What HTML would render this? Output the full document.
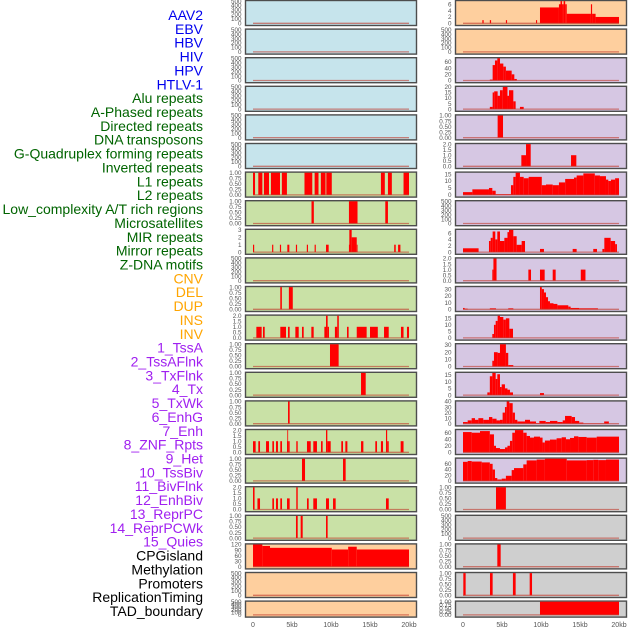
<!DOCTYPE html>
<html><head><meta charset="utf-8">
<style>
html,body{margin:0;padding:0;background:#fff;}
svg{display:block;font-family:"Liberation Sans",sans-serif;}
</style></head>
<body>
<svg id="chart" width="630" height="630" viewBox="0 0 630 630" xmlns="http://www.w3.org/2000/svg"></svg>
<script>
const featureLabels = ["AAV2","EBV","HBV","HIV","HPV","HTLV-1","Alu repeats","A-Phased repeats","Directed repeats","DNA transposons","G-Quadruplex forming repeats","Inverted repeats","L1 repeats","L2 repeats","Low_complexity A/T rich regions","Microsatellites","MIR repeats","Mirror repeats","Z-DNA motifs","CNV","DEL","DUP","INS","INV","1_TssA","2_TssAFlnk","3_TxFlnk","4_Tx","5_TxWk","6_EnhG","7_Enh","8_ZNF_Rpts","9_Het","10_TssBiv","11_BivFlnk","12_EnhBiv","13_ReprPC","14_ReprPCWk","15_Quies","CPGisland","Methylation","Promoters","ReplicationTiming","TAD_boundary"];
const xTickLabels = ["0","5kb","10kb","15kb","20kb"];
const xTickValues = [0,5,10,15,20];
const Q = ["0.00","0.25","0.50","0.75","1.00"];
const H = ["0.0","0.5","1.0","1.5","2.0"];
const E = ["0","100","200","300","400","500"];
const leftTicks = [E,E,E,E,E,E,Q,Q,["0","1","2","3"],E,Q,H,Q,Q,Q,H,Q,H,Q,["0","30","60","90","120"],E,E];
const leftMax = [500,500,500,500,500,500,1,1,3,500,1,2,1,1,1,2,1,2,1,120,500,500];
const rightTicks = [["0","2","4","6"],E,["0","20","40","60"],["0","5","10","15","20"],Q,H,["0","5","10","15"],E,["0","2","4","6"],H,["0","10","20","30"],["0","5","10","15"],["0","10","20","30"],["0","5","10","15"],["0","10","20","30","40"],["0","20","40","60"],["0","20","40","60"],Q,E,Q,Q,Q];
const rightMax = [7,500,72,20,1,2,16,500,7,2,33,17,31,16.5,40,68,78,1,500,1,1,1];
// segments: [startKb, endKb, value]
const leftSeries = [[],[],[],[],[],[],
[[0,0.26,1],[0.68,1.2,1],[1.4,2.05,1],[2.3,3.46,1],[3.7,4.35,1],[6.6,7.6,1],[7.9,8.4,1],[8.7,9.3,1],[9.4,10.1,1],[16.4,16.9,1],[17.3,17.8,1],[19.3,20,1]],
[[7.5,7.8,1],[12.3,13.4,1],[16.96,17.3,1]],
[[0,0.15,1],[2.45,2.6,1],[3.45,3.6,1],[4.4,4.66,1],[5.5,5.65,1],[6.9,7.05,1],[7.9,8.05,1],[9.36,9.7,1],[12.3,12.35,1],[12.35,12.65,3],[12.65,13.3,2],[13.3,13.4,1],[18.1,18.3,1],[18.6,18.9,1]],
[],
[[3.5,3.7,1],[4.6,5.1,1]],
[[0.43,1.11,1],[1.28,1.5,1],[3.5,4.23,1],[4.49,4.7,1],[5.43,5.86,1],[6.28,6.5,1],[7.48,7.78,1],[9.15,9.36,1],[9.36,9.57,2],[9.57,9.74,1],[10.5,10.8,1],[10.8,11.0,2],[12.05,12.26,1],[13.3,14.57,1],[15.0,16.0,1],[16.8,17.4,1],[18.97,19.3,1],[19.74,20,1]],
[[9.87,10.98,1]],
[[13.85,14.45,1]],
[[4.49,4.7,1]],
[[0,0.34,1],[0.68,0.9,1],[1.67,2.05,1],[2.48,2.69,1],[2.95,3.2,1],[3.5,3.72,1],[4.36,4.4,1],[4.4,4.5,2],[4.5,4.7,1],[5.55,5.73,1],[6.92,7.4,1],[7.73,8.2,1],[8.72,8.93,1],[9.36,9.53,2],[9.53,9.96,1],[11.32,11.54,1],[11.84,12.1,1],[13.85,14.15,1],[15.68,15.9,1],[16.4,16.67,1],[17.05,17.2,2],[17.2,17.4,1],[18.93,19.3,1]],
[[6.28,6.67,1],[11.54,11.88,1]],
[[0,0.2,2],[0.57,0.9,1],[2.48,2.69,1],[2.95,3.2,1],[3.5,3.72,1],[4.36,4.7,1],[5.55,5.73,2],[6.92,7.14,1],[7.73,8.2,1],[9.36,9.74,1],[10.26,10.6,1],[17.05,17.4,1]],
[[5.51,5.73,1],[6.11,6.37,1],[9.36,9.57,1]],
[[0,1.2,120],[1.2,2.18,112],[2.18,10.1,102],[10.1,12.2,93],[12.2,13.3,108],[13.3,20,93]],
[],[]];
const rightSeries = [
[[2.48,2.65,1],[3.44,3.6,1],[5.5,5.65,1],[9.36,9.5,1],[9.87,12.3,5],[12.3,12.5,6],[12.5,12.7,7],[12.7,12.9,6],[12.9,13.1,7],[13.1,13.3,6],[13.3,16.4,3],[16.4,16.55,6],[16.55,17.0,3],[17.0,20,2]],
[],
[[3.44,3.8,3],[3.8,4.1,50],[4.1,4.4,65],[4.4,4.74,72],[4.74,5.17,55],[5.17,5.5,45],[5.5,6.24,32],[6.24,6.58,20],[6.58,6.9,5]],
[[3.44,3.8,2],[3.8,4.0,15],[4.0,4.44,16],[4.44,4.74,12],[4.74,5.1,17],[5.1,5.7,20],[5.7,5.9,12],[5.9,6.45,17],[6.45,6.75,7],[7.3,7.78,2]],
[[4.44,5.13,1]],
[[7.48,8.08,1],[8.08,8.68,2],[13.85,14.53,1]],
[[0,1.2,2],[1.2,3.33,4],[3.33,3.76,5],[3.76,4.19,3],[4.19,6.15,0.5],[6.15,6.45,7],[6.45,6.75,13],[6.75,7.3,16],[7.3,7.78,13],[7.78,8.42,12],[8.42,10.1,13],[10.1,10.64,7],[10.64,11.5,7.5],[11.5,12.3,7],[12.3,13.1,9],[13.1,14.23,11.5],[14.23,14.57,12.5],[14.57,15.43,14],[15.43,16.9,15.5],[16.9,17.56,14],[17.56,18.33,13.5],[18.33,18.63,11],[18.63,18.97,10],[18.97,19.5,11],[19.5,20,12]],
[],
[[0,2.0,1.2],[3.33,3.55,3.5],[3.55,3.8,4.5],[3.8,4.14,6.5],[4.14,4.4,4],[4.4,4.74,6.5],[4.74,5.3,3.5],[5.3,5.7,4.5],[5.7,5.9,6.3],[5.9,6.45,7],[6.45,6.88,5],[6.88,7.52,2.3],[7.52,7.95,3.5],[9.87,10.38,1],[14.06,14.57,1],[16.7,17.18,1],[17.87,18.12,1],[18.12,18.93,4.5],[18.93,19.5,3.5],[19.5,19.74,2.5]],
[[3.76,3.9,1],[3.9,4.3,2],[8.38,8.72,1],[9.87,10.47,1],[11.5,11.88,1],[15.1,15.7,1]],
[[0,0.21,2],[0.21,0.6,1],[3.44,4.23,1.5],[5.8,6.45,1.5],[9.87,10.1,33],[10.1,10.38,30],[10.38,10.64,25],[10.64,10.9,18],[10.9,11.15,12],[11.15,11.6,9],[11.6,12.1,8],[12.1,13.5,6],[13.5,13.8,4],[13.8,14.9,2],[14.9,17.3,1.5]],
[[3.76,3.97,3],[3.97,4.19,10],[4.19,4.44,13],[4.44,4.74,17],[4.74,5.17,16],[5.17,5.5,14],[5.5,5.94,15],[5.94,6.41,7]],
[[3.76,3.97,8],[3.97,4.44,20],[4.44,4.74,19],[4.74,5.5,31],[5.5,5.8,19],[5.8,6.45,2]],
[[3.12,3.44,2],[3.44,3.76,14],[3.76,4.19,16.5],[4.19,4.4,12],[4.4,4.74,15.5],[4.74,4.96,6],[4.96,5.38,8],[5.38,5.7,5],[5.7,6.02,4],[6.02,6.41,2],[9.87,10.38,1.5]],
[[0,0.6,3],[0.6,1.11,6],[1.11,1.54,10],[1.54,1.97,7],[1.97,2.6,10],[2.6,3.33,7],[3.33,3.76,12],[3.76,4.3,9],[4.3,4.74,6],[4.74,5.08,7],[5.08,5.38,20],[5.38,5.6,30],[5.6,5.94,40],[5.94,6.37,37],[6.37,6.66,20],[6.66,6.97,7],[6.97,7.95,4],[7.95,8.59,7],[8.59,9.36,4],[9.36,9.79,1],[9.79,10.6,5],[10.6,11.15,3],[11.15,12.1,5],[12.1,12.78,3],[12.78,13.08,6],[13.08,13.93,14],[13.93,14.36,12],[14.36,14.9,5],[14.9,15.43,2],[15.43,18.1,0.5],[18.1,18.7,4]],
[[0,1.11,62],[1.11,2.18,60],[2.18,3.44,65],[3.44,3.97,55],[3.97,4.23,20],[4.23,4.74,13],[4.74,5.38,10],[5.38,5.7,15],[5.7,6.02,20],[6.02,6.32,35],[6.32,6.66,60],[6.66,7.73,68],[7.73,8.16,60],[8.16,8.59,50],[8.59,9.1,45],[9.1,9.87,48],[9.87,10.2,45],[10.2,10.5,30],[10.5,11.15,36],[11.15,12.0,39],[12.0,12.65,43],[12.65,13.2,46],[13.2,13.72,40],[13.72,14.23,44],[14.23,14.79,49],[14.79,15.85,47],[15.85,17.14,45],[17.14,20,48]],
[[0,0.6,67],[0.6,1.11,70],[1.11,2.4,68],[2.4,3.44,65],[3.44,3.8,60],[3.8,4.1,40],[4.1,4.4,10],[4.4,4.96,5],[4.96,5.5,8],[5.5,6.24,18],[6.24,6.54,38],[6.54,7.73,45],[7.73,8.16,58],[8.16,9.44,72],[9.44,10.5,75],[10.5,13.3,78],[13.3,15.85,72],[15.85,16.7,73],[16.7,17.35,74],[17.35,18.33,73],[18.33,20,75]],
[[4.23,5.5,1]],
[],
[[4.4,4.83,1]],
[[0.04,0.34,1],[3.46,3.8,1],[6.4,6.75,1],[8.55,8.85,1]],
[[9.87,20,1]]];

const NS="http://www.w3.org/2000/svg";
const svg=document.getElementById('chart');
function mk(tag,attrs,parent){const e=document.createElementNS(NS,tag);for(const k in attrs)e.setAttribute(k,attrs[k]);(parent||svg).appendChild(e);return e;}
const leftBg=["#c6e4ec","#c6e4ec","#c6e4ec","#c6e4ec","#c6e4ec","#c6e4ec","#c9e1a6","#c9e1a6","#c9e1a6","#c9e1a6","#c9e1a6","#c9e1a6","#c9e1a6","#c9e1a6","#c9e1a6","#c9e1a6","#c9e1a6","#c9e1a6","#c9e1a6","#fecf9e","#fecf9e","#fecf9e"];
const rightBg=["#fecf9e","#fecf9e"].concat(Array(15).fill("#d6c7e3")).concat(Array(5).fill("#cfcfcf"));
function labelColor(i){if(i<6)return"#0000ee";if(i<19)return"#006400";if(i<24)return"#ffa500";if(i<39)return"#a020f0";return"#000";}

featureLabels.forEach((t,i)=>{
  const e=mk('text',{x:203,y:15+i*13.86+5,'text-anchor':'end','font-size':14,fill:labelColor(i)});
  e.textContent=t;
  
  
});

function drawColumn(side,x0,x1,ax0,ax1,series,maxes,ticks,bgs,tickX){
  const sx=v=>ax0+(v/20)*(ax1-ax0);
  for(let i=0;i<22;i++){
    const top=i*28.6+0.5, h=(i===21)?16:25;
    const g=mk('g',{});
    
    
    const r=mk('rect',{x:x0,y:top,width:x1-x0,height:h,fill:bgs[i],stroke:'#4d4d4d','stroke-width':1.4},g);
    
    
    const y0=top+h-2.2, sc=(h-2.8)/maxes[i];
    const sy=v=>y0-v*sc;
    series[i].forEach(s=>{
      const b=mk('rect',{x:sx(s[0]),y:sy(s[2]),width:Math.max(0.8,sx(s[1])-sx(s[0])),height:y0-sy(s[2]),fill:'#ff0000'},g);
      
      
    });
    const bl=mk('line',{x1:sx(0),x2:sx(20),y1:y0,y2:y0,stroke:'#c0392b','stroke-opacity':0.6,'stroke-width':1.3},g);
    
    
    ticks[i].forEach(t=>{
      const v=parseFloat(t);
      const e=mk('text',{x:tickX,y:sy(v)+2.2,'text-anchor':'end','font-size':6.3,fill:'#555'},g);
      e.textContent=t;
      
      
    });
  }
  xTickValues.forEach((v,k)=>{
    const e=mk('text',{x:sx(v),y:627,'text-anchor':'middle','font-size':7,fill:'#555'});
    e.textContent=xTickLabels[k];
    
    
  });
}
drawColumn('left',245.5,416.5,253,409,leftSeries,leftMax,leftTicks,leftBg,241.5);
drawColumn('right',455.5,626.5,463,619,rightSeries,rightMax,rightTicks,rightBg,451.5);
</script>
</body></html>
